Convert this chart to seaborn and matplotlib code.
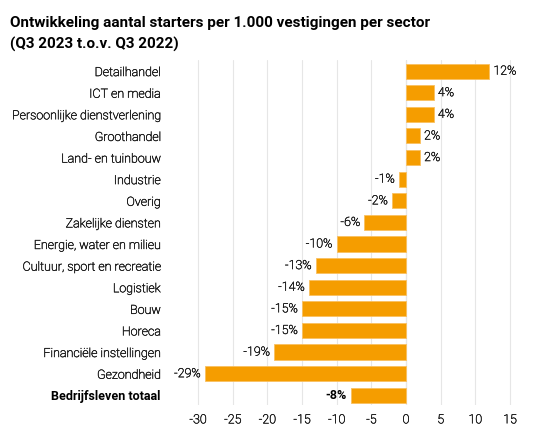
import matplotlib
matplotlib.use("Agg")
import pandas as pd
import matplotlib.pyplot as plt
import matplotlib.patheffects as pe
import seaborn as sns

SECTORS = [
    "Detailhandel", "ICT en media", "Persoonlijke dienstverlening", "Groothandel",
    "Land- en tuinbouw", "Industrie", "Overig", "Zakelijke diensten",
    "Energie, water en milieu", "Cultuur, sport en recreatie", "Logistiek",
    "Bouw", "Horeca", "Financiële instellingen", "Gezondheid", "Bedrijfsleven totaal",
]
CHANGE = [12, 4, 4, 2, 2, -1, -2, -6, -10, -13, -14, -15, -15, -19, -29, -8]
X_TICKS = [-30, -25, -20, -15, -10, -5, 0, 5, 10, 15]
TITLE = "Ontwikkeling aantal starters per 1.000 vestigingen per sector\n(Q3 2023 t.o.v. Q3 2022)"
TOTAL = "Bedrijfsleven totaal"


def main() -> None:
    color_bar = "#f59d00"
    color_text = "#222222"
    weight = "light"
    # Light Roboto renders very thin at this size; a hairline stroke darkens it a bit
    thicken = [pe.withStroke(linewidth=0.35, foreground=color_text)]

    sns.set_theme(style="white")
    plt.rcParams["font.family"] = ["Roboto", "DejaVu Sans"]

    df = pd.DataFrame({"sector": SECTORS, "change": CHANGE})

    fig = plt.figure(figsize=(5.34, 4.32), dpi=100)
    ax = fig.add_axes([0.358, 0.0625, 0.623, 0.798])

    sns.barplot(data=df, x="change", y="sector", orient="h", color=color_bar,
                width=0.7, saturation=1, edgecolor="#f9c060", linewidth=0.6, ax=ax)

    ax.set_xlim(-31, 17)
    ax.set_ylim(15.45, -0.5)
    ax.set_xticks(X_TICKS)
    ax.set_xticklabels([str(t) for t in X_TICKS], fontsize=9, fontweight=weight,
                       color=color_text, path_effects=thicken)
    ax.tick_params(axis="both", length=0)
    ax.tick_params(axis="y", pad=22)
    ax.tick_params(axis="x", pad=6)
    for lbl in ax.get_yticklabels():
        lbl.set_fontsize(9)
        if lbl.get_text() == TOTAL:
            lbl.set_fontweight("bold")
            lbl.set_color("black")
        else:
            lbl.set_fontweight(weight)
            lbl.set_color(color_text)
            lbl.set_path_effects(thicken)

    ax.grid(axis="x", color="#e6e6e6", linewidth=0.8)
    ax.set_axisbelow(True)
    ax.axvline(0, color="#d0d0d0", linewidth=0.8, zorder=0.5)
    for s in ax.spines.values():
        s.set_visible(False)
    ax.set_xlabel("")
    ax.set_ylabel("")

    # Value labels next to the bar ends
    for i, v in enumerate(CHANGE):
        bold = SECTORS[i] == TOTAL
        ax.annotate(
            f"{v}%", xy=(v, i), xytext=(3 if v >= 0 else -3, 0), textcoords="offset points",
            ha="left" if v >= 0 else "right", va="center", fontsize=9,
            fontweight="bold" if bold else weight, color="black" if bold else color_text,
            path_effects=None if bold else thicken,
        )

    fig.text(0.019, 0.962, TITLE, fontsize=11, fontweight="bold", color="black",
             va="top", ha="left", linespacing=1.6)

    fig.savefig("out.png", dpi=100)


if __name__ == "__main__":
    main()
